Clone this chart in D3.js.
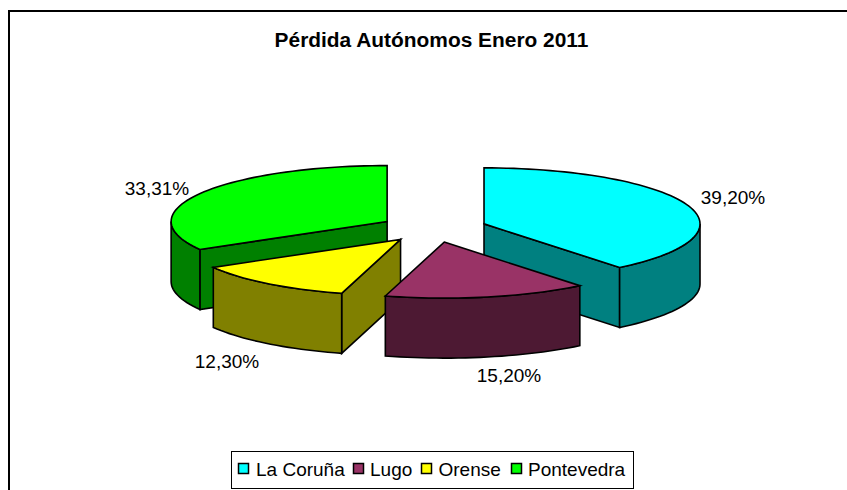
<!DOCTYPE html>
<html><head><meta charset="utf-8">
<script src="https://cdn.jsdelivr.net/npm/d3@7"></script>
<style>html,body{margin:0;padding:0;background:#fff;overflow:hidden}svg{display:block}text{font-family:"Liberation Sans",Arial,sans-serif;fill:#000}</style>
</head><body><svg id="c" width="847" height="490"></svg>
<script>
const categories = ["La Coruña","Lugo","Orense","Pontevedra"];
const values = [39.20,15.20,12.30,33.31];
const valueLabels = ["39,20%","15,20%","12,30%","33,31%"];
const topColors = ["#00ffff","#993366","#ffff00","#00ff00"];
const sideColors = ["#008080","#4d1933","#808000","#008000"];
const title = "Pérdida Autónomos Enero 2011";

const W=847,H=490, cx=433.5, cy=228.5, rx=216, ry=56, depth=60, explode=0.248;
const svg=d3.select("#c");
svg.append("rect").attr("width",W).attr("height",H).attr("fill","#fff");
svg.append("path").attr("d",`M9,${H+2}V11H${W+2}`).attr("fill","none").attr("stroke","#000").attr("stroke-width",2);
svg.append("text").attr("x",431.5).attr("y",46.5).attr("text-anchor","middle")
  .attr("font-size",20.9).attr("font-weight","bold").text(title);

const x=d3.scaleLinear().domain([-1,1]).range([cx-rx,cx+rx]);
const y=d3.scaleLinear().domain([-1,1]).range([cy-ry,cy+ry]);
const arcs=d3.pie().sort(null).value(d=>d)(values);
const line=d3.line();
const poly=p=>line(p)+"Z";
const DEG=Math.PI/180;

function geom(a){
  const mid=(a.startAngle+a.endAngle)/2;
  const ox=explode*Math.sin(mid), oy=-explode*Math.cos(mid);
  const pt=t=>[x(ox+Math.sin(t)),y(oy-Math.cos(t))];
  const apex=[x(ox),y(oy)];
  return {pt,apex};
}
function arcPts(pt,a0,a1){
  const n=Math.max(2,Math.ceil((a1-a0)/(2*DEG)));
  return d3.range(n+1).map(i=>pt(a0+(a1-a0)*i/n));
}
const down=p=>[p[0],p[1]+depth];

// Back-to-front painting order
[3,0,2,1].forEach(i=>{
  const a=arcs[i], {pt,apex}=geom(a), g=svg.append("g")
    .attr("stroke","#000").attr("stroke-width",1.6).attr("stroke-linejoin","miter");
  const side=d=>g.append("path").attr("d",d).attr("fill",sideColors[i]);
  // cut face at the end angle, facing the viewer when sin>0
  if(Math.sin(a.endAngle)>1e-6){
    const p=pt(a.endAngle);
    side(poly([apex,p,down(p),down(apex)]));
  }
  // cut face at the start angle
  if(Math.sin(a.startAngle)<-1e-6){
    const p=pt(a.startAngle);
    side(poly([apex,p,down(p),down(apex)]));
  }
  // outer wall: the part of the rim in front (90°..270°)
  const w0=Math.max(a.startAngle,90*DEG), w1=Math.min(a.endAngle,270*DEG);
  if(w1>w0){
    const r=arcPts(pt,w0,w1);
    side(poly(r.concat(r.map(down).reverse())));
  }
  // top face
  g.append("path").attr("d",poly([apex].concat(arcPts(pt,a.startAngle,a.endAngle))))
    .attr("fill",topColors[i]);
});

// Data labels
const labelAnchor=[[733,204],[509,382],[227,368],[157,195]];
valueLabels.forEach((t,i)=>svg.append("text").attr("x",labelAnchor[i][0]).attr("y",labelAnchor[i][1])
  .attr("text-anchor","middle").attr("font-size",19).text(t));

// Legend
svg.append("rect").attr("x",231.5).attr("y",451.5).attr("width",402).attr("height",37)
  .attr("fill","#fff").attr("stroke","#000").attr("stroke-width",1);
const swatchX=[238.5,353.5,421.5,511.5];
const legendTextX=[256,370,438.5,528];
categories.forEach((c,i)=>{
  svg.append("rect").attr("x",swatchX[i]).attr("y",463.5).attr("width",10).attr("height",10)
    .attr("fill",topColors[i]).attr("stroke","#000").attr("stroke-width",1.5);
  svg.append("text").attr("x",legendTextX[i]).attr("y",475.5).attr("font-size",19).text(c);
});
</script></body></html>
